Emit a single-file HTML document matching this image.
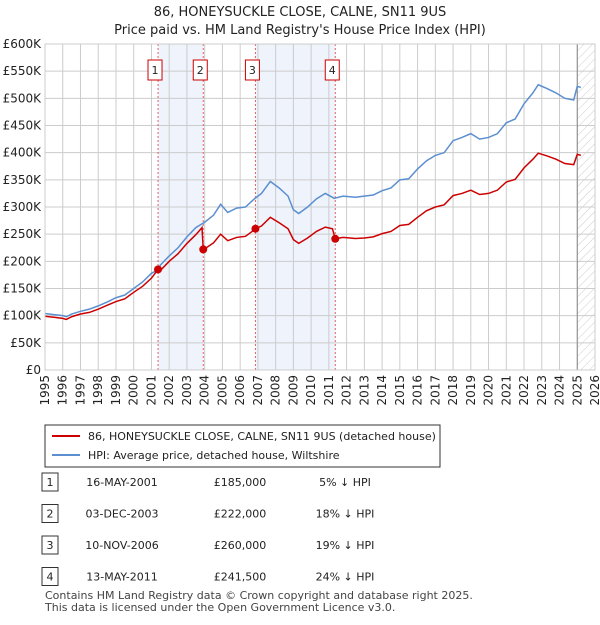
<!DOCTYPE html>
<html><head><meta charset="utf-8"><style>
body{margin:0;background:#fff;font-family:"Liberation Sans","DejaVu Sans",sans-serif;}
svg text{font-family:"DejaVu Sans","Liberation Sans",sans-serif;}
</style></head><body>
<svg id="c" width="600" height="620" xmlns="http://www.w3.org/2000/svg">
<defs><pattern id="hatch" width="6" height="6" patternUnits="userSpaceOnUse" patternTransform="rotate(45)"><line x1="0" y1="0" x2="0" y2="6" stroke="#ccc" stroke-width="1"/></pattern></defs>
<text x="300" y="16" text-anchor="middle" font-size="13" fill="#222">86, HONEYSUCKLE CLOSE, CALNE, SN11 9US</text>
<text x="300" y="34" text-anchor="middle" font-size="13" fill="#222">Price paid vs. HM Land Registry's House Price Index (HPI)</text>
<g id="plot"></g>
<rect x="45" y="425" width="395" height="42" fill="#fff" stroke="#333"/>
<line x1="52" y1="436" x2="80" y2="436" stroke="#cc0000" stroke-width="2"/>
<text x="88" y="440" font-size="11" fill="#222">86, HONEYSUCKLE CLOSE, CALNE, SN11 9US (detached house)</text>
<line x1="52" y1="455" x2="80" y2="455" stroke="#5b8fd0" stroke-width="2"/>
<text x="88" y="459" font-size="11" fill="#222">HPI: Average price, detached house, Wiltshire</text>
<g id="table"></g>
<text x="45" y="599" font-size="11" fill="#444">Contains HM Land Registry data © Crown copyright and database right 2025.</text>
<text x="45" y="611" font-size="11" fill="#444">This data is licensed under the Open Government Licence v3.0.</text>
</svg>
<script>
const yTicks=[0,50,100,150,200,250,300,350,400,450,500,550,600];
const years=[1995,1996,1997,1998,1999,2000,2001,2002,2003,2004,2005,2006,2007,2008,2009,2010,2011,2012,2013,2014,2015,2016,2017,2018,2019,2020,2021,2022,2023,2024,2025,2026];
const hpiT=[1995.0,1995.5,1996.0,1996.2,1996.5,1997,1997.5,1998,1998.5,1999,1999.5,2000,2000.5,2001,2001.4,2001.5,2002,2002.5,2003,2003.5,2004,2004.5,2004.9,2005.3,2005.8,2006.3,2006.8,2007.2,2007.7,2008.2,2008.7,2009.0,2009.3,2009.8,2010.3,2010.8,2011.3,2011.8,2012.5,2013,2013.5,2014,2014.5,2015,2015.5,2016,2016.5,2017,2017.5,2018,2018.5,2019,2019.5,2020,2020.5,2021,2021.5,2022,2022.5,2022.8,2023.3,2023.8,2024.3,2024.8,2025.0,2025.2];
const hpiV=[104,102,100,98,103,108,112,118,125,133,138,150,162,178,185,193,210,225,245,262,272,285,305,290,298,300,315,325,347,335,320,295,288,300,315,325,316,320,318,320,322,330,335,350,352,370,385,395,400,422,428,435,425,428,435,455,462,490,510,525,518,510,500,497,522,520];
const redT=[1995.0,1995.5,1996.0,1996.2,1996.5,1997,1997.5,1998,1998.5,1999,1999.5,2000,2000.5,2001,2001.37,2001.5,2002,2002.5,2003,2003.5,2003.85,2003.92,2004,2004.5,2004.9,2005.3,2005.8,2006.3,2006.8,2006.86,2007.2,2007.7,2008.2,2008.7,2009.0,2009.3,2009.8,2010.3,2010.8,2011.2,2011.36,2011.8,2012.5,2013,2013.5,2014,2014.5,2015,2015.5,2016,2016.5,2017,2017.5,2018,2018.5,2019,2019.5,2020,2020.5,2021,2021.5,2022,2022.5,2022.8,2023.3,2023.8,2024.3,2024.8,2025.0,2025.2];
const redV=[99,97,95,93,98,103,106,112,119,126,131,143,154,169,185,183,200,214,233,249,262,222,223,234,250,238,244,246,258,260,265,281,271,260,240,233,243,255,263,260,241.5,244,242,243,245,251,255,266,268,281,293,300,304,321,325,331,323,325,331,346,351,372,388,399,394,388,380,378,397,395];
const saleLabels=["1","2","3","4"];
const saleT=[2001.37,2003.92,2006.86,2011.36];
const saleV=[185,222,260,241.5];
const saleDates=["16-MAY-2001","03-DEC-2003","10-NOV-2006","13-MAY-2011"];
const salePrices=["£185,000","£222,000","£260,000","£241,500"];
const salePct=["5% ↓ HPI","18% ↓ HPI","19% ↓ HPI","24% ↓ HPI"];

const X0=45,X1=595,Y0=370,Y1=44;
const x=t=>X0+(t-1995)/(2026-1995)*(X1-X0);
const y=v=>Y0-v/600*(Y0-Y1);
const NS="http://www.w3.org/2000/svg";
const plot=document.getElementById('plot');
function mk(tag,attrs,parent){const e=document.createElementNS(NS,tag);for(const k in attrs)e.setAttribute(k,attrs[k]);(parent||plot).appendChild(e);return e;}

for(let i=0;i<saleT.length;i+=2){
  const r=mk('rect',{x:x(saleT[i]),y:Y1,width:x(saleT[i+1])-x(saleT[i]),height:Y0-Y1,fill:'#eef3fc'});
  
  
}
const h=mk('rect',{x:x(2025),y:Y1,width:X1-x(2025),height:Y0-Y1,fill:'url(#hatch)'});


years.forEach(yr=>{
  const l=mk('line',{x1:x(yr),x2:x(yr),y1:Y1,y2:Y0,stroke:'#ccc','stroke-width':1});
  
  
  const t=mk('text',{x:0,y:0,'font-size':12,fill:'#222','text-anchor':'end',transform:`translate(${x(yr)+4},${Y0+5}) rotate(-90)`});
  t.textContent=yr;
  
  
});
yTicks.forEach(v=>{
  const l=mk('line',{x1:X0,x2:X1,y1:y(v),y2:y(v),stroke:'#ccc','stroke-width':1});
  
  
  const t=mk('text',{x:X0-4,y:y(v)+4,'font-size':12,fill:'#222','text-anchor':'end'});
  t.textContent=v===0?'£0':'£'+v+'K';
  
  
});
const nl=mk('line',{x1:x(2025),x2:x(2025),y1:Y1,y2:Y0,stroke:'#888','stroke-width':1});


saleT.forEach((t,i)=>{
  const l=mk('line',{x1:x(t),x2:x(t),y1:Y1,y2:Y0,stroke:'#e06060','stroke-width':1,'stroke-dasharray':'2,2'});
  
  
  const b=mk('rect',{x:x(t)-10,y:60,width:14,height:20,fill:'#fff',stroke:'#cc0000'});
  
  
  const tx=mk('text',{x:x(t)-3,y:74,'font-size':11,fill:'#222','text-anchor':'middle'});
  tx.textContent=saleLabels[i];
  
  
});
const hp=mk('polyline',{points:hpiT.map((t,i)=>x(t)+','+y(hpiV[i])).join(' '),fill:'none',stroke:'#5b8fd0','stroke-width':1.5});


const rp=mk('polyline',{points:redT.map((t,i)=>x(t)+','+y(redV[i])).join(' '),fill:'none',stroke:'#cc0000','stroke-width':1.5});


saleT.forEach((t,i)=>{
  const c=mk('circle',{cx:x(t),cy:y(saleV[i]),r:4,fill:'#cc0000'});
  
  
});
const fr=mk('rect',{x:X0,y:Y1,width:X1-X0,height:Y0-Y1,fill:'none',stroke:'#ccc'});



const tbl=document.getElementById('table');
saleT.forEach((t,i)=>{
  const cy=482+i*31.5;
  const b=mk('rect',{x:42,y:cy-9,width:16,height:18,fill:'#fff',stroke:'#333'},tbl);
  
  
  const cells=[[50,saleLabels[i],'middle'],[122,saleDates[i],'middle'],[240,salePrices[i],'middle'],[345,salePct[i],'middle']];
  cells.forEach(c=>{
    const tx=mk('text',{x:c[0],y:cy+4,'font-size':11,fill:'#222','text-anchor':c[2]},tbl);
    tx.textContent=c[1];
    
    
  });
});
</script>
</body></html>
